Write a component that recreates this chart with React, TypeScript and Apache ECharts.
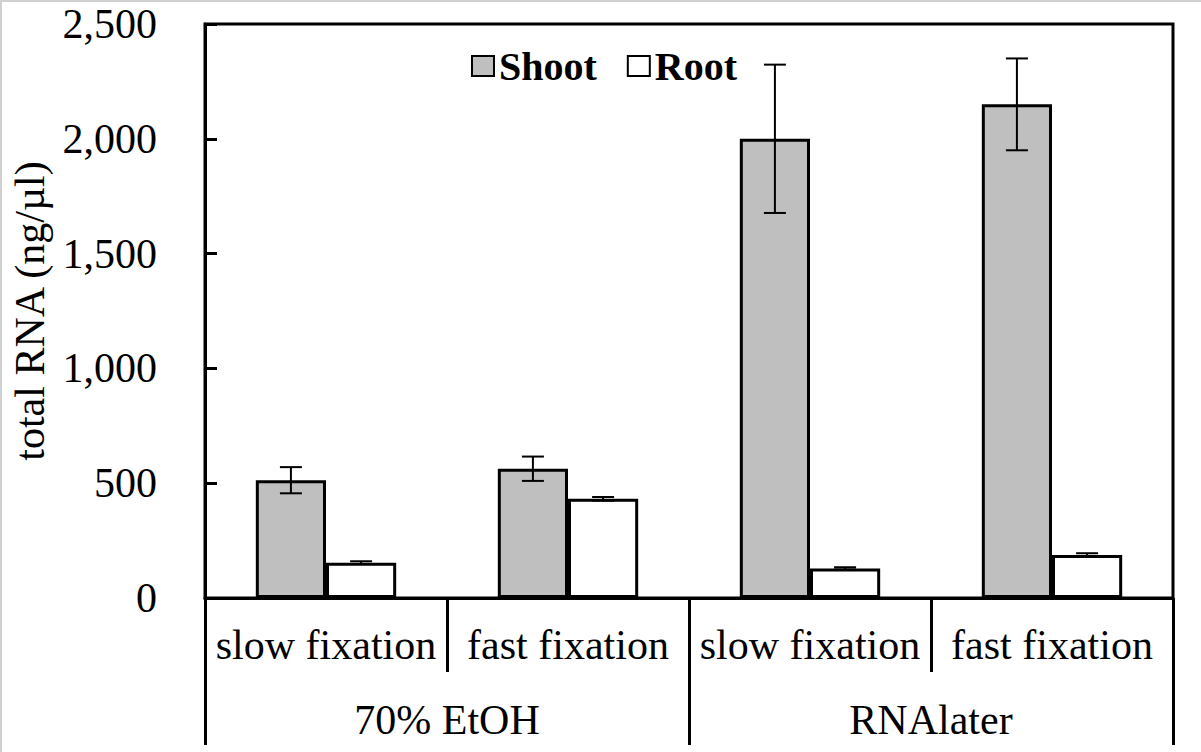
import React, { useEffect, useRef } from "react";
import * as echarts from "echarts";

const categories = ["slow fixation", "fast fixation", "slow fixation", "fast fixation"];
const groups = ["70% EtOH", "RNAlater"];
const shootValues = [513, 563, 2000, 2150];
const shootErrors = [57, 53, 323, 200];
const rootValues = [154, 432, 129, 187];
const rootErrors = [6, 8, 5, 8];
const yTicks = { min: 0, max: 2500, interval: 500 };

const FONT = "Liberation Serif";
const BAR_FRAC = 0.29;
const FS = 42;

function errorSeries(name: string, values: number[], errors: number[], sign: number) {
  return {
    type: "custom",
    name: name + " error",
    xAxisIndex: 0,
    yAxisIndex: 0,
    z: 10,
    silent: true,
    encode: { x: 0, y: 1 },
    data: values.map((v, i) => [i, v, errors[i]]),
    renderItem: (params: any, api: any) => {
      const idx = api.value(0);
      const v = api.value(1);
      const e = api.value(2);
      const bw = api.size([1, 0])[0];
      const c = api.coord([idx, v]);
      const x = c[0] + (sign * bw * BAR_FRAC) / 2;
      const top = api.coord([idx, v + e])[1];
      const bot = api.coord([idx, v - e])[1];
      const cap = 11;
      const style = { stroke: "#000", lineWidth: 2 };
      return {
        type: "group",
        children: [
          { type: "line", shape: { x1: x, y1: top, x2: x, y2: bot }, style },
          { type: "line", shape: { x1: x - cap, y1: top, x2: x + cap, y2: top }, style },
          { type: "line", shape: { x1: x - cap, y1: bot, x2: x + cap, y2: bot }, style },
        ],
      };
    },
  };
}

export default function App() {
  const ref = useRef<HTMLDivElement>(null);
  useEffect(() => {
    if (!ref.current) return;
    const chart = echarts.init(ref.current, null, { renderer: "svg" });
    const gridRect = { left: 205, right: 28, top: 24, bottom: 154, containLabel: false, outerBoundsMode: "none" };
    chart.setOption({
      animation: false,
      backgroundColor: "#fff",
      textStyle: { fontFamily: FONT, color: "#000" },
      grid: [
        { ...gridRect, show: true, borderColor: "#000", borderWidth: 3, backgroundColor: "transparent" },
        { ...gridRect },
      ],
      legend: {
        data: ["Shoot", "Root"],
        left: 466,
        top: 41,
        icon: "rect",
        itemWidth: 22,
        itemHeight: 20,
        itemGap: 30,
        textStyle: { fontFamily: FONT, fontSize: 40, fontWeight: "bold", color: "#000", padding: [0, 0, 0, 0] },
        selectedMode: false,
      },
      xAxis: [
        {
          type: "category",
          gridIndex: 0,
          data: categories,
          axisLine: { show: true, lineStyle: { color: "#000", width: 3 } },
          axisTick: { show: true, length: 74, alignWithLabel: false, lineStyle: { color: "#000", width: 3 } },
          axisLabel: { interval: 0, fontFamily: FONT, fontSize: FS, color: "#000", margin: 26 },
        },
        {
          type: "category",
          gridIndex: 1,
          data: groups,
          axisLine: { show: false },
          axisTick: { show: true, length: 147, alignWithLabel: false, lineStyle: { color: "#000", width: 3 } },
          axisLabel: { interval: 0, fontFamily: FONT, fontSize: FS, color: "#000", margin: 101 },
        },
      ],
      yAxis: [
        {
          type: "value",
          gridIndex: 0,
          min: yTicks.min,
          max: yTicks.max,
          interval: yTicks.interval,
          name: "total RNA (ng/µl)",
          nameLocation: "middle",
          nameRotate: 90,
          nameGap: 154,
          nameTextStyle: { fontFamily: FONT, fontSize: FS, color: "#000" },
          axisLine: { show: true, lineStyle: { color: "#000", width: 3 } },
          axisTick: { show: true, inside: true, length: 12, lineStyle: { color: "#000", width: 3 } },
          splitLine: { show: false },
          axisLabel: {
            fontFamily: FONT,
            fontSize: FS,
            color: "#000",
            margin: 48,
            formatter: (v: number) => v.toLocaleString("en-US"),
          },
        },
        { type: "value", gridIndex: 1, show: false, min: 0, max: 1 },
      ],
      series: [
        {
          type: "bar",
          name: "Shoot",
          xAxisIndex: 0,
          yAxisIndex: 0,
          data: shootValues,
          barWidth: BAR_FRAC * 100 + "%",
          barGap: "0%",
          itemStyle: { color: "#bfbfbf", borderColor: "#000", borderWidth: 3 },
        },
        {
          type: "bar",
          name: "Root",
          xAxisIndex: 0,
          yAxisIndex: 0,
          data: rootValues,
          barWidth: BAR_FRAC * 100 + "%",
          barGap: "0%",
          itemStyle: { color: "#ffffff", borderColor: "#000", borderWidth: 3 },
        },
        errorSeries("Shoot", shootValues, shootErrors, -1),
        errorSeries("Root", rootValues, rootErrors, 1),
      ],
      graphic: [
        { type: "line", shape: { x1: 0, y1: 1, x2: 1201, y2: 1 }, style: { stroke: "#d0d0d0", lineWidth: 2 } },
        { type: "line", shape: { x1: 1, y1: 0, x2: 1, y2: 752 }, style: { stroke: "#d0d0d0", lineWidth: 2 } },
      ],
    });
    return () => chart.dispose();
  }, []);
  return (
    <div
      ref={ref}
      style={{ position: "fixed", left: 0, top: 0, width: 1201, height: 752, background: "#fff" }}
    />
  );
}
